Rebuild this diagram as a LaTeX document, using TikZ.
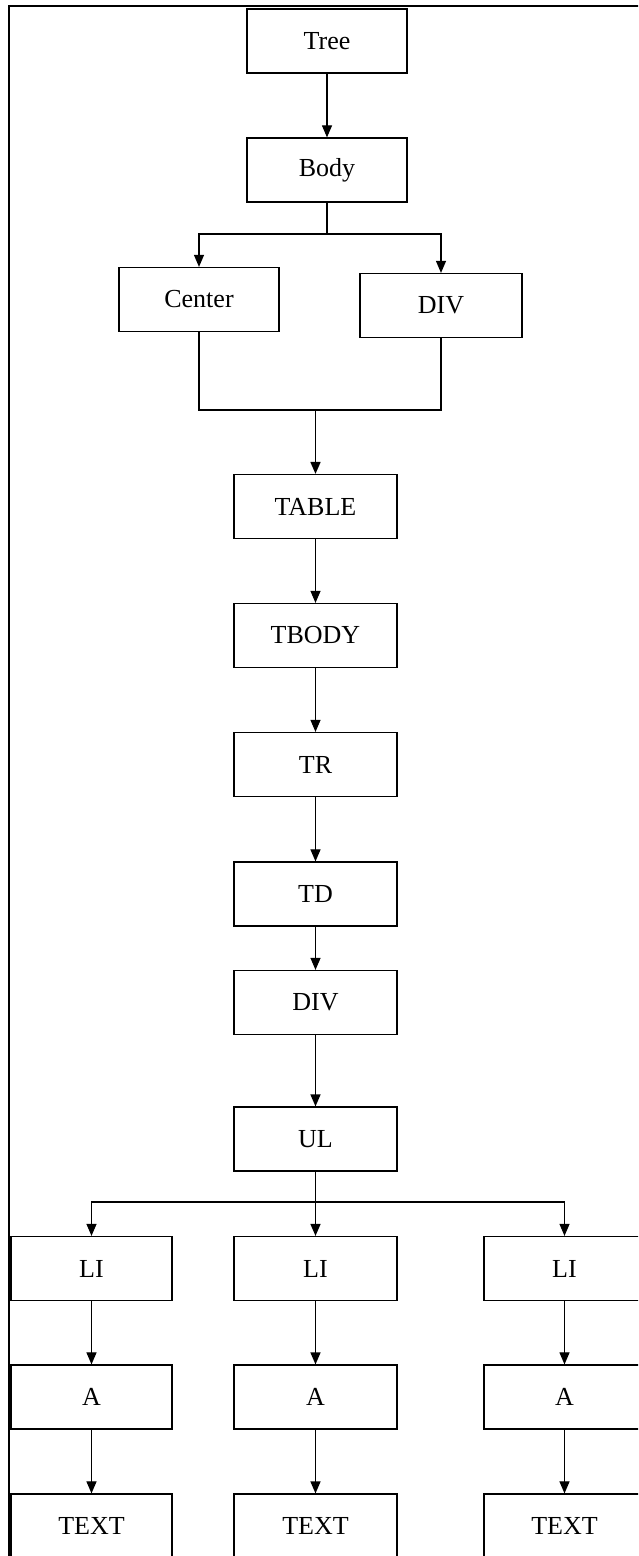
\documentclass[tikz,border=0pt]{standalone}
\usepackage{fontspec}
\setmainfont{Liberation Serif}
\usetikzlibrary{arrows.meta}
\begin{document}
\begin{tikzpicture}[x=1pt,y=-1pt,
  box/.style={draw, line width=1.2pt, minimum width=160pt, minimum height=64pt, inner sep=0pt, font=\fontsize{26}{30}\selectfont},
  conn/.style={line width=1.1pt},
  arr/.style={line width=1.1pt, -{Triangle[length=12pt,width=10pt]}},
  frame/.style={line width=1.4pt}]
\useasboundingbox (0,0) rectangle (638,1556);
\clip (0,0) rectangle (638,1556);
\fill[white] (0,0) rectangle (638,1556);
\draw[frame] (9,1600) -- (9,6) -- (700,6);
% nodes
\node[box] (tree) at (327,41) {Tree};
\node[box] (body) at (327,170) {Body};
\node[box] (center) at (199,299.5) {Center};
\node[box, minimum width=162pt] (div1) at (441,305.5) {DIV};
\node[box, minimum width=163pt] (table) at (315.5,506.5) {TABLE};
\node[box, minimum width=163pt] (tbody) at (315.5,635.5) {TBODY};
\node[box, minimum width=163pt] (tr) at (315.5,764.5) {TR};
\node[box, minimum width=163pt] (td) at (315.5,894) {TD};
\node[box, minimum width=163pt] (div2) at (315.5,1002.5) {DIV};
\node[box, minimum width=163pt] (ul) at (315.5,1139) {UL};
\node[box, minimum width=161pt] (li1) at (91.5,1268.5) {LI};
\node[box, minimum width=163pt] (li2) at (315.5,1268.5) {LI};
\node[box, minimum width=161pt] (li3) at (564.5,1268.5) {LI};
\node[box, minimum width=161pt] (a1) at (91.5,1397) {A};
\node[box, minimum width=163pt] (a2) at (315.5,1397) {A};
\node[box, minimum width=161pt] (a3) at (564.5,1397) {A};
\node[box, minimum width=161pt] (t1) at (91.5,1526) {TEXT};
\node[box, minimum width=163pt] (t2) at (315.5,1526) {TEXT};
\node[box, minimum width=161pt] (t3) at (564.5,1526) {TEXT};
% junctions
\coordinate (j1) at (327,234);
\coordinate (j2) at (315.5,410);
\coordinate (j3) at (315.5,1202);
% connectors
\draw[arr] (tree) -- (body);
\draw[conn, line width=1.7pt] (body) -- (j1);
\draw[arr] (j1) -| (center);
\draw[arr] (j1) -| (div1);
\draw[conn] (center.south) |- (j2);
\draw[conn] (div1.south) |- (j2);
\draw[arr, line width=1.7pt] (j2) -- (table);
\draw[arr] (table) -- (tbody);
\draw[arr] (tbody) -- (tr);
\draw[arr] (tr) -- (td);
\draw[arr] (td) -- (div2);
\draw[arr, line width=1.4pt] (div2) -- (ul);
\draw[conn, line width=1.4pt] (ul) -- (j3);
\draw[arr] (j3) -| (li1);
\draw[arr, line width=1.4pt] (j3) -- (li2);
\draw[arr] (j3) -| (li3);
\draw[arr] (li1) -- (a1);
\draw[arr, line width=1.4pt] (li2) -- (a2);
\draw[arr] (li3) -- (a3);
\draw[arr] (a1) -- (t1);
\draw[arr, line width=1.4pt] (a2) -- (t2);
\draw[arr] (a3) -- (t3);
\end{tikzpicture}
\end{document}
